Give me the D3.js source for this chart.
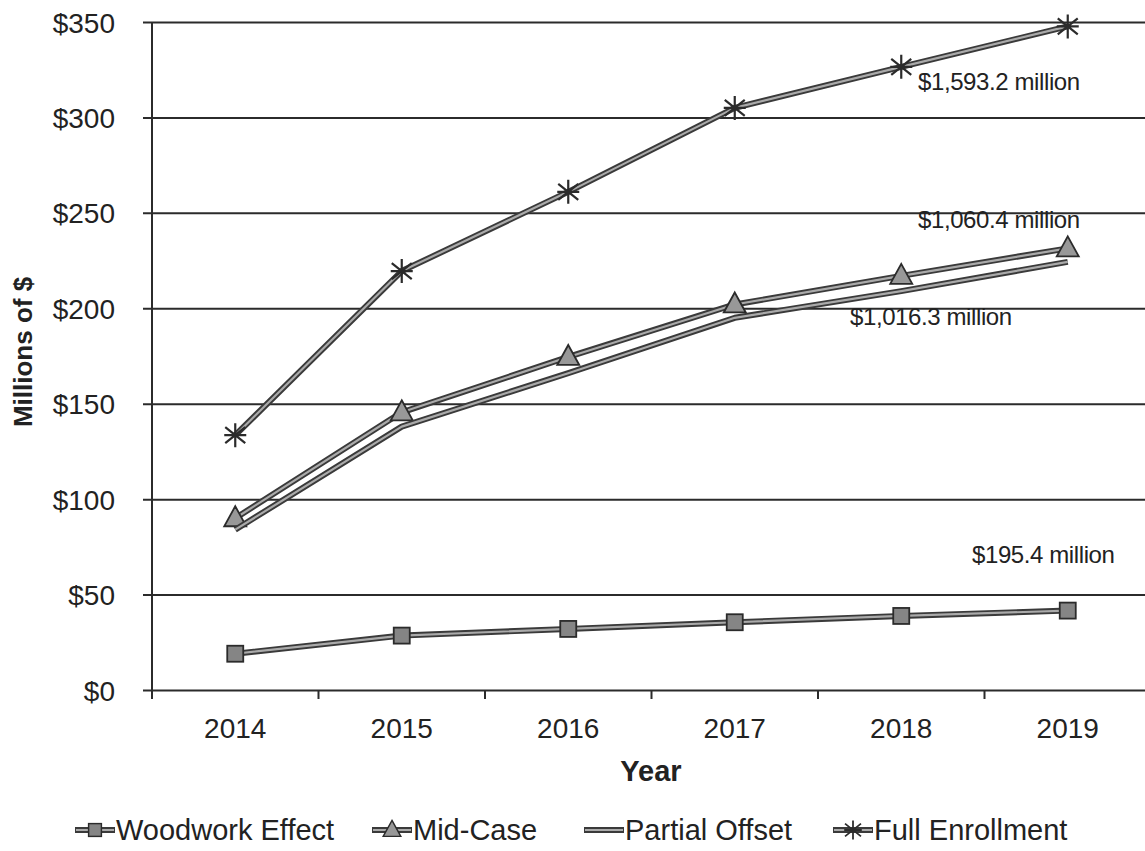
<!DOCTYPE html>
<html>
<head>
<meta charset="utf-8">
<script src="https://cdn.jsdelivr.net/npm/d3@7"></script>
<style>
  body { margin: 0; background: #fff; }
  svg { display: block; font-family: Arial, "Liberation Sans", sans-serif; }
</style>
</head>
<body>
<svg width="1145" height="851"></svg>
<script>
// data (millions of $ per year)
const years = ['2014', '2015', '2016', '2017', '2018', '2019'];
const woodwork = [19, 28.5, 32, 35.5, 38.8, 41.6];
const midCase = [90, 145.5, 174.5, 202, 217, 231.4];
const partialOffset = [84, 138, 166, 195, 209, 224.3];
const fullEnrollment = [133.5, 219.5, 261, 305, 326.5, 347.7];
const yTicks = [0, 50, 100, 150, 200, 250, 300, 350];

const seriesNames = ['Woodwork Effect', 'Mid-Case', 'Partial Offset', 'Full Enrollment'];
const seriesMarkers = ['square', 'triangle', 'none', 'asterisk'];
const totals = ['$195.4 million', '$1,060.4 million', '$1,016.3 million', '$1,593.2 million'];

const series = [woodwork, midCase, partialOffset, fullEnrollment].map(function(values, i) {
  return { name: seriesNames[i], marker: seriesMarkers[i], values: values };
});

const ink = '#2b2b2b';
const svg = d3.select('svg');

const x = d3.scaleBand().domain(years).range([152, 1151]);
const y = d3.scaleLinear().domain([0, 350]).range([690, 22]);

// gridlines + y labels
const yAxis = svg.append('g').attr('transform', 'translate(143,0)')
  .call(d3.axisLeft(y).tickValues(yTicks).tickSize(-(1151 - 143)).tickPadding(28)
    .tickFormat(function(d) { return '$' + d; }));
yAxis.select('.domain').remove();
yAxis.selectAll('line').attr('stroke', ink).attr('stroke-width', 2);
yAxis.selectAll('text').attr('font-size', 28).attr('fill', '#222').attr('dy', '0.36em');

// y axis line
svg.append('line').attr('x1', 152).attr('x2', 152).attr('y1', y(350)).attr('y2', 699)
  .attr('stroke', ink).attr('stroke-width', 2);

// x category boundary ticks
svg.append('g').selectAll('line')
  .data(years.slice(1))
  .join('line')
  .attr('x1', function(d) { return x(d); }).attr('x2', function(d) { return x(d); })
  .attr('y1', 690).attr('y2', 699)
  .attr('stroke', ink).attr('stroke-width', 2);

// x labels
const xAxis = svg.append('g').attr('transform', 'translate(0,690)')
  .call(d3.axisBottom(x).tickSize(0).tickPadding(28));
xAxis.select('.domain').remove();
xAxis.selectAll('text').attr('font-size', 28).attr('fill', '#222');

// axis titles
svg.append('text').attr('x', 651).attr('y', 781).attr('text-anchor', 'middle')
  .attr('font-size', 29).attr('font-weight', 'bold').attr('fill', '#222').text('Year');
svg.append('text').attr('transform', 'translate(32,352) rotate(-90)').attr('text-anchor', 'middle')
  .attr('font-size', 26).attr('font-weight', 'bold').attr('fill', '#222').text('Millions of $');

const cx = function(d, i) { return x(years[i]) + x.bandwidth() / 2; };

// marker drawing, shared with the legend
function drawMarker(g, type) {
  if (type === 'square') {
    g.append('rect').attr('x', -8).attr('y', -8).attr('width', 16).attr('height', 16)
      .attr('fill', '#858585').attr('stroke', ink).attr('stroke-width', 1.8);
  } else if (type === 'triangle') {
    g.append('path').attr('d', 'M0,-12L11,8L-11,8Z')
      .attr('fill', '#989898').attr('stroke', ink).attr('stroke-width', 1.8);
  } else if (type === 'asterisk') {
    g.append('path').attr('d', 'M0,-12V12M-10,-8L10,8M-10,8L10,-8M-11,0H11')
      .attr('stroke', ink).attr('stroke-width', 2.2).attr('fill', 'none');
  }
}

const line = d3.line().x(cx).y(function(d) { return y(d); });

series.forEach(function(s) {
  const g = svg.append('g');
  // double line look of the printed chart
  g.append('path').attr('d', line(s.values)).attr('fill', 'none')
    .attr('stroke', '#3a3a3a').attr('stroke-width', 6).attr('stroke-linejoin', 'round');
  g.append('path').attr('d', line(s.values)).attr('fill', 'none')
    .attr('stroke', '#aaaaaa').attr('stroke-width', 2.2).attr('stroke-linejoin', 'round');
  s.values.forEach(function(v, i) {
    drawMarker(g.append('g').attr('transform', 'translate(' + cx(v, i) + ',' + y(v) + ')'), s.marker);
  });
});

// cumulative totals next to the lines
const totalPos = [[972, 563], [918, 228], [850, 325], [918, 90]];
svg.append('g').selectAll('text')
  .data(totals)
  .join('text')
  .attr('x', function(d, i) { return totalPos[i][0]; })
  .attr('y', function(d, i) { return totalPos[i][1]; })
  .attr('font-size', 24).attr('fill', '#222').attr('letter-spacing', -0.4)
  .text(function(d) { return d; });

// legend
const legendX = [75, 372, 584, 833];
const legend = svg.append('g').selectAll('g')
  .data(series)
  .join('g')
  .attr('transform', function(d, i) { return 'translate(' + legendX[i] + ',830)'; });
legend.append('line').attr('x1', 0).attr('x2', 40).attr('stroke', '#3a3a3a').attr('stroke-width', 6);
legend.append('line').attr('x1', 1).attr('x2', 39).attr('stroke', '#aaaaaa').attr('stroke-width', 2.2);
legend.each(function(d) {
  drawMarker(d3.select(this).append('g').attr('transform', 'translate(20,0) scale(0.8)'), d.marker);
});
legend.append('text').attr('x', 41).attr('y', 10).attr('font-size', 29).attr('fill', '#222')
  .text(function(d) { return d.name; });
</script>
</body>
</html>
